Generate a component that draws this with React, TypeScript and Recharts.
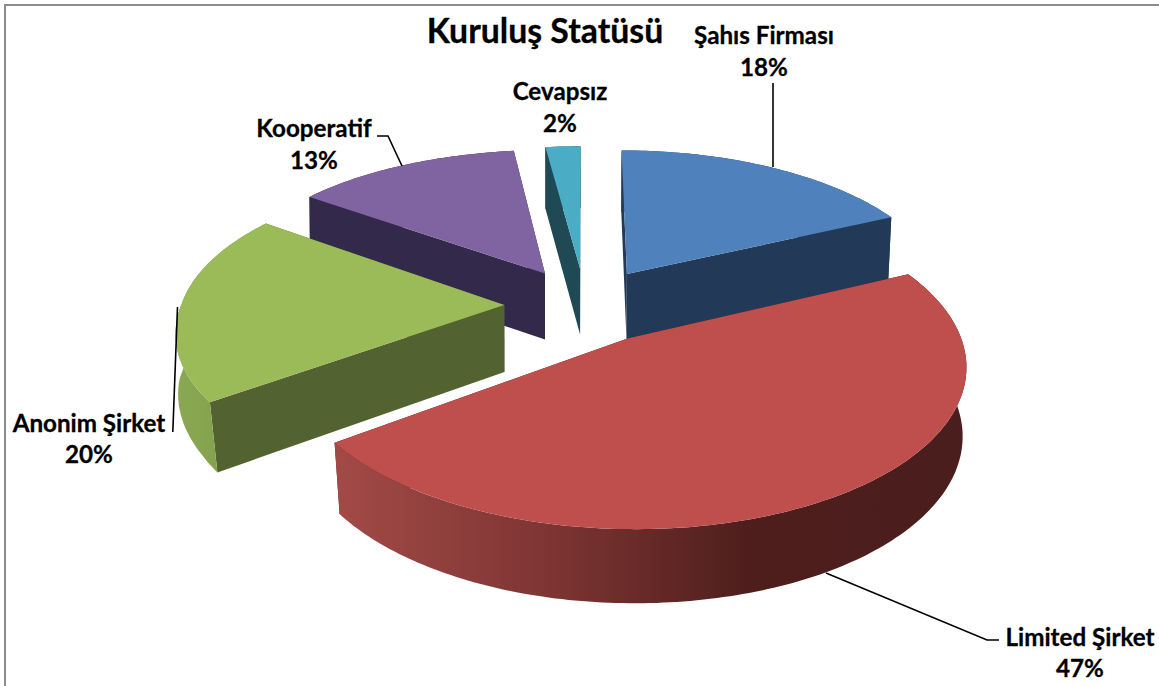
import { PieChart, Pie } from 'recharts';

// slices are listed back to front so the front ones paint over the ones behind
const sliceNames = ['Kooperatif', 'Cevapsız', 'Şahıs Firması', 'Limited Şirket', 'Anonim Şirket'];
const sliceValues = [13, 2, 18, 47, 20];
const topColors = ['#8064a2', '#4bacc6', '#4f81bd', '#bf4f4c', '#9bbb59'];
const sideColors = ['#33294a', '#1f4a55', '#223a57', '#53201e', '#526230'];
const rimFills = ['#33294a', '#1f4a55', '#223a57', 'url(#rimRed)', 'url(#rimGreen)'];

const WIDTH = 1159;
const HEIGHT = 686;
const CX = 585;
const CY = 305;
const RADIUS = 323;
const EXPLODE = 0.25; // fraction of the radius
const TILT = 0.467;
const PERSPECTIVE = 0.15;
const DEPTH = 67;
const LABEL_SIZE = 24.2;

const chartData = sliceNames.map((name, i) => ({ name, value: sliceValues[i], index: i }));

// label text centre, baselines and leader line for each slice
const labelLayout: Record<string, { x: number; y: number; y2: number; line?: string }> = {
  'Şahıs Firması': { x: 764, y: 44, y2: 76, line: '773,83 773,167' },
  'Limited Şirket': { x: 1080, y: 646, y2: 677, line: '826,573 987,640 999,640' },
  'Anonim Şirket': { x: 89, y: 432, y2: 463, line: '177.5,307 172.8,432' },
  Kooperatif: { x: 314, y: 137, y2: 169, line: '377,136 388,136 402,166' },
  Cevapsız: { x: 560, y: 100, y2: 132 },
};

const rad = (deg: number) => (deg * Math.PI) / 180;

// world point on the tilted disc -> screen, with a slight perspective
const project = (cx: number, cy: number, r: number, wx: number, wy: number, down = false) => {
  const s = 1 / (1 + PERSPECTIVE * wy);
  // the back left of the original pie sits a little wider than a pure perspective gives
  const lean = wx < 0 && wy > 0 ? 1 + 0.026 * wy : 1;
  const x = wx * r * s * lean;
  const y = wy * r * TILT * s;
  if (down) {
    // the underside pulls in on the left only towards the front
    const pull = x < 0 ? 1 - 0.02 * Math.min(Math.max(-wy / 0.5, 0.1), 1) : 0.99;
    return [cx + x * pull, cy - y + DEPTH * Math.sqrt(s)];
  }
  return [cx + x, cy - y];
};

const toPath = (pts: number[][]) =>
  pts.map((p, i) => `${i ? 'L' : 'M'}${p[0].toFixed(1)} ${p[1].toFixed(1)}`).join(' ') + ' Z';

const Slice3D = (props: any) => {
  const { cx, cy, outerRadius, startAngle, endAngle, midAngle, index } = props;
  // recharts angles run counter clockwise from east, the maths below uses clockwise from north
  const from = 90 - startAngle;
  const to = 90 - endAngle;
  const mid = 90 - midAngle;
  const ox = EXPLODE * Math.sin(rad(mid));
  const oy = EXPLODE * Math.cos(rad(mid));

  const rimAt = (deg: number, down = false) =>
    project(cx, cy, outerRadius, ox + Math.sin(rad(deg)), oy + Math.cos(rad(deg)), down);

  const angles: number[] = [];
  for (let a = from; a < to; a += 1) angles.push(a);
  angles.push(to);

  const apexTop = project(cx, cy, outerRadius, ox, oy);
  const apexBottom = project(cx, cy, outerRadius, ox, oy, true);
  const topArc = angles.map((a) => rimAt(a));
  const bottomArc = angles.map((a) => rimAt(a, true));

  const faceAt = (deg: number) => toPath([apexTop, rimAt(deg), rimAt(deg, true), apexBottom]);
  const i = props.payload?.index ?? index;

  return (
    <g>
      <path d={faceAt(from)} fill={sideColors[i]} />
      <path d={faceAt(to)} fill={sideColors[i]} />
      <path d={toPath([...topArc, ...[...bottomArc].reverse()])} fill={rimFills[i]} />
      <path d={toPath([apexTop, ...topArc])} fill={topColors[i]} />
    </g>
  );
};

const SliceLabel = (props: any) => {
  const name = props.name ?? props.payload?.name;
  const layout = labelLayout[name];
  if (!layout) return null;
  const value = props.value ?? props.payload?.value;
  return (
    <g fontFamily="Lato, sans-serif" fontWeight={700} fill="#000" textAnchor="middle">
      {layout.line && <polyline points={layout.line} fill="none" stroke="#000" strokeWidth={1.6} />}
      <text x={layout.x} y={layout.y} fontSize={LABEL_SIZE} stroke="#000" strokeWidth={0.3}>
        {name}
      </text>
      <text x={layout.x} y={layout.y2} fontSize={LABEL_SIZE} stroke="#000" strokeWidth={0.3}>
        {value}%
      </text>
    </g>
  );
};

export default function App() {
  return (
    <div style={{ position: 'absolute', left: 0, top: 0, width: WIDTH, height: HEIGHT }}>
      <PieChart width={WIDTH} height={HEIGHT} margin={{ top: 0, right: 0, bottom: 0, left: 0 }}>
        <defs>
          <linearGradient id="rimRed" x1="0" y1="0" x2="1" y2="0">
            <stop offset="0" stopColor="#a34a47" />
            <stop offset="0.35" stopColor="#7c3432" />
            <stop offset="0.66" stopColor="#4e1e1c" />
            <stop offset="1" stopColor="#4a1e1e" />
          </linearGradient>
          <linearGradient id="rimGreen" x1="0" y1="0" x2="1" y2="0">
            <stop offset="0" stopColor="#8aa852" />
            <stop offset="1" stopColor="#7f9c4a" />
          </linearGradient>
        </defs>
        <rect x={5} y={5} width={1200} height={800} fill="#fff" stroke="#8c8c8c" strokeWidth={2} />
        <text
          x={545}
          y={43}
          textAnchor="middle"
          fontFamily="Lato, sans-serif"
          fontWeight={700}
          fontSize={33.8}
          fill="#000"
          stroke="#000"
          strokeWidth={0.3}
        >
          Kuruluş Statüsü
        </text>
        <Pie
          data={chartData}
          dataKey="value"
          nameKey="name"
          cx={CX}
          cy={CY}
          innerRadius={0}
          outerRadius={RADIUS}
          startAngle={-216}
          endAngle={-576}
          stroke="none"
          shape={Slice3D}
          label={SliceLabel}
          labelLine={false}
          isAnimationActive={false}
        />
      </PieChart>
    </div>
  );
}
